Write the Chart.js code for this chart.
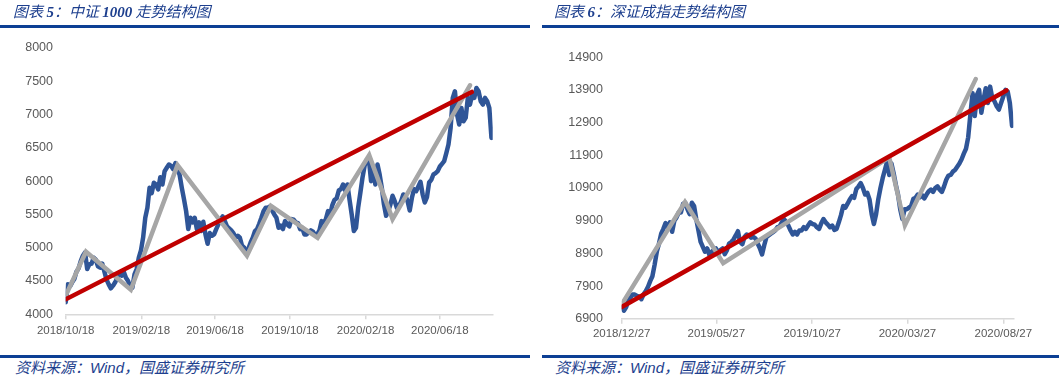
<!DOCTYPE html>
<html><head><meta charset="utf-8">
<script src="https://cdn.jsdelivr.net/npm/chart.js@4.4.0/dist/chart.umd.min.js"></script>
<style>
html,body{margin:0;padding:0;background:#fff;}
body{width:1059px;height:382px;position:relative;overflow:hidden;}
canvas{position:absolute;top:0;}
.title{position:absolute;top:1px;font-family:"Noto Sans CJK SC";font-style:italic;font-size:15px;color:#1d3f8e;white-space:nowrap;line-height:20px;z-index:2;}
.num{font-family:"Liberation Serif";font-weight:bold;font-style:italic;}
.rule{position:absolute;height:3px;background:#0c3f94;z-index:2;}
.src{position:absolute;top:357px;font-family:"Noto Sans CJK SC";font-style:italic;font-size:15px;color:#1d3f8e;white-space:nowrap;line-height:20px;z-index:2;}
.wind{font-family:"Liberation Sans";font-style:italic;}
</style>
</head><body>
<div class="title" style="left:13px">图表 <span class="num">5</span>：中证 <span class="num">1000</span> 走势结构图</div>
<div class="title" style="left:554px">图表 <span class="num">6</span>：深证成指走势结构图</div>
<div class="rule" style="left:0;width:530px;top:25px"></div>
<div class="rule" style="left:542px;width:517px;top:25px"></div>
<div class="rule" style="left:0;width:530px;top:355px"></div>
<div class="rule" style="left:542px;width:517px;top:355px"></div>
<div class="src" style="left:15px">资料来源：<span class="wind">Wind</span>，国盛证券研究所</div>
<div class="src" style="left:555px">资料来源：<span class="wind">Wind</span>，国盛证券研究所</div>
<canvas id="c1" width="530" height="345" style="left:0"></canvas>
<canvas id="c2" width="529" height="345" style="left:530px"></canvas>
<script>
// ---------- Chart 1: 中证1000 ----------
const start1 = '2018/10/18';
const stepDays1 = 3.5; // twice-weekly samples
const xTickLabels1 = ['2018/10/18','2019/02/18','2019/06/18','2019/10/18','2020/02/18','2020/06/18'];
const xEnd1 = '2020/09/12';
const yTicks1 = [4000,4500,5000,5500,6000,6500,7000,7500,8000];
const blue1 = [
 4180,4450,4420,4480,4530,4640,4690,4800,4880,4930,
 4680,4750,4760,4850,4820,4720,4700,4760,4640,4520,
 4450,4390,4430,4480,4550,4620,4580,4640,4550,4500,
 4420,4400,4600,4680,4850,4960,5150,5450,5600,5900,
 5820,5975,5950,5875,6060,5950,6150,6200,6250,6230,
 6180,6270,6190,6090,5900,5730,5550,5280,5450,5380,
 5450,5280,5380,5250,5390,5200,5060,5220,5180,5200,
 5280,5350,5420,5470,5400,5320,5290,5260,5220,5150,
 5180,5150,5030,5000,4920,4990,5080,5150,5250,5280,
 5360,5450,5550,5600,5600,5620,5560,5500,5450,5300,
 5330,5280,5400,5350,5320,5430,5420,5380,5370,5280,
 5300,5200,5200,5230,5260,5240,5190,5200,5260,5400,
 5380,5430,5550,5500,5640,5720,5740,5860,5880,5950,
 5860,5950,5720,5500,5250,5300,5600,5820,6050,6230,
 6320,6330,6000,6150,5950,6250,6100,5900,5650,5480,
 5550,5650,5780,5700,5600,5620,5700,5800,5780,5700,
 5560,5750,5880,5850,5920,5990,5800,5680,5760,5980,
 6020,6100,6120,6150,6220,6260,6300,6420,6550,6800,
 7250,7350,7000,6850,7100,6900,6950,7250,7150,7300,
 7250,7400,7350,7200,7150,7250,7200,7100,6650
];
const grayDates1 = ['2018/10/19','2018/11/20','2019/02/01','2019/04/18','2019/08/09','2019/09/17','2019/12/02','2020/02/24','2020/04/02','2020/08/06'];
const grayValues1 = [4300,4940,4370,6240,4880,5630,5150,6390,5430,7440];
const redDates1 = ['2018/10/18','2020/08/09'];
const redValues1 = [4225,7340];

// ---------- Chart 2: 深证成指 ----------
const start2 = '2018/12/27';
const stepDays2 = 3.5;
const xTickLabels2 = ['2018/12/27','2019/05/27','2019/10/27','2020/03/27','2020/08/27'];
const xEnd2 = '2020/09/12';
const yTicks2 = [6900,7900,8900,9900,10900,11900,12900,13900,14900];
const blue2 = [
 7240,7150,7250,7440,7550,7640,7640,7600,7580,7500,
 7650,7750,7880,8050,8200,8550,8950,9200,9500,9650,
 9830,9700,9850,9560,9900,10000,10150,10150,10420,10450,
 10250,10100,10450,10350,9950,9600,9250,9100,8950,9050,
 8850,8950,9000,9050,8880,9000,9050,8880,9000,9200,
 9250,9330,9450,9580,9250,9180,9400,9480,9450,9380,
 9400,9360,9200,9060,8870,9150,9400,9450,9500,9550,
 9600,9700,9720,9850,9950,9850,9750,9600,9480,9560,
 9480,9600,9600,9700,9650,9750,9850,9800,9780,9700,
 9650,9820,9950,9850,9780,9700,9750,9620,9650,9850,
 10070,10350,10300,10420,10550,10650,10600,10870,10950,11050,
 10900,10700,10750,10550,10100,9800,10100,10550,10900,11200,
 11450,11700,11300,11650,11350,11000,10700,10250,9950,10250,
 10250,10300,10350,10570,10600,10700,10620,10680,10580,10700,
 10800,10850,10780,10900,10950,10850,10780,10950,11150,11280,
 11300,11400,11450,11550,11650,11780,11950,12100,12450,13150,
 13800,13100,13750,13900,13200,13600,13950,13500,14000,13650,
 13550,13400,13300,13500,13700,13900,13850,13500,12800
];
const grayDates2 = ['2018/12/27','2019/04/07','2019/06/07','2020/02/27','2020/03/23','2020/07/14'];
const grayValues2 = [7340,10472,8603,11836,9763,14230];
const redDates2 = ['2018/12/27','2020/09/01'];
const redValues2 = [7260,13884];

// ---------- helpers ----------
function dayNum(s){const p=s.split('/').map(Number);return Date.UTC(p[0],p[1]-1,p[2])/86400000;}
function dayOf(s,start){return dayNum(s)-dayNum(start);}
function pairs(dates,vals,start){return dates.map((d,i)=>({x:dayOf(d,start),y:vals[i]}));}
function sampled(vals,step){return vals.map((v,i)=>({x:i*step,y:v}));}

function makeChart(id, cfg){
  const tickDays = cfg.xLabels.map(l=>dayOf(l,cfg.start));
  return new Chart(document.getElementById(id), {
    type:'line',
    data:{datasets:[
      {data:pairs(cfg.redDates,cfg.redValues,cfg.start),borderColor:'#c00000',borderWidth:4.5,pointRadius:0,borderCapStyle:'round'},
      {data:pairs(cfg.grayDates,cfg.grayValues,cfg.start),borderColor:'#a6a6a6',borderWidth:4.5,pointRadius:0,borderJoinStyle:'miter',borderCapStyle:'round'},
      {data:sampled(cfg.blue,cfg.step),borderColor:'#2f5597',borderWidth:4.5,pointRadius:0,borderJoinStyle:'round',borderCapStyle:'round'}
    ]},
    options:{
      responsive:false,animation:false,devicePixelRatio:1,
      parsing:false,
      layout:{padding:{top:cfg.padTop,right:cfg.padRight,left:0,bottom:0}},
      plugins:{legend:{display:false},tooltip:{enabled:false}},
      elements:{line:{tension:0}},
      scales:{
        x:{type:'linear',min:0,max:dayOf(cfg.end,cfg.start),
          afterBuildTicks:s=>{s.ticks=tickDays.map(v=>({value:v}));},
          afterFit:s=>{s.height=cfg.xHeight;},
          ticks:{autoSkip:false,maxRotation:0,minRotation:0,padding:cfg.xPad,color:'#595959',
            font:{family:'Liberation Sans',size:11.5},
            callback:(v,i)=>cfg.xLabels[i]},
          grid:{display:true,drawOnChartArea:false,drawTicks:true,tickLength:5,color:'#d9d9d9',lineWidth:1.5},
          border:{display:true,color:'#d9d9d9',width:1.5}
        },
        y:{type:'linear',min:cfg.yTicks[0],max:cfg.yTicks[cfg.yTicks.length-1],
          afterBuildTicks:s=>{s.ticks=cfg.yTicks.map(v=>({value:v}));},
          afterFit:s=>{s.width=cfg.yWidth;},
          ticks:{padding:cfg.yPad,color:'#595959',font:{family:'Liberation Sans',size:12.5},callback:v=>String(v)},
          grid:{display:false,drawTicks:false},
          border:{display:false}
        }
      }
    }
  });
}

makeChart('c1',{start:start1,step:stepDays1,xLabels:xTickLabels1,end:xEnd1,yTicks:yTicks1,blue:blue1,
  grayDates:grayDates1,grayValues:grayValues1,redDates:redDates1,redValues:redValues1,
  padTop:48,padRight:37.3,yWidth:65.7,xHeight:30.7,xPad:4.5,yPad:12.7});
makeChart('c2',{start:start2,step:stepDays2,xLabels:xTickLabels2,end:xEnd2,yTicks:yTicks2,blue:blue2,
  grayDates:grayDates2,grayValues:grayValues2,redDates:redDates2,redValues:redValues2,
  padTop:57.2,padRight:45.7,yWidth:91.7,xHeight:23.8,xPad:3,yPad:18.7});
</script>
</body></html>
